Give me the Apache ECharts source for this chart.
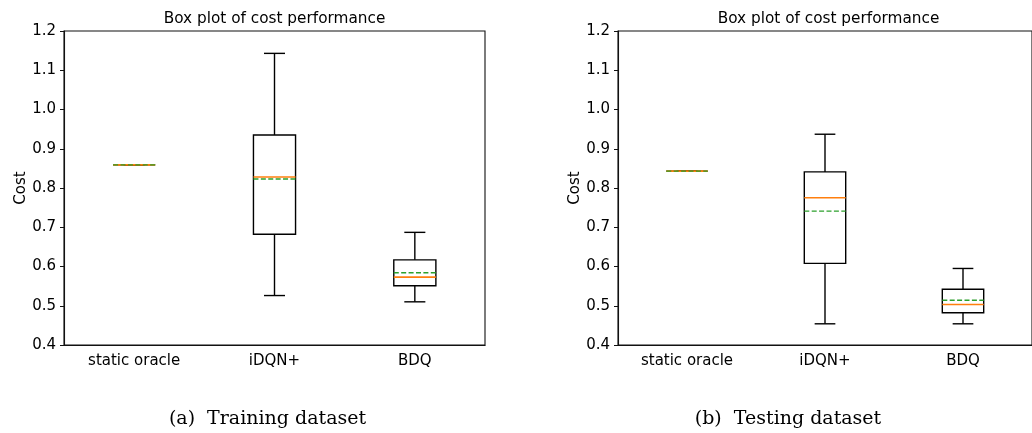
<!DOCTYPE html>
<html>
<head>
<meta charset="utf-8">
<script src="https://cdn.jsdelivr.net/npm/echarts@6/dist/echarts.min.js"></script>
<style>
html,body{margin:0;padding:0;background:#fff;}
#chart{width:1032px;height:433px;}
</style>
</head>
<body>
<div id="chart"></div>
<script>
const categories = ['static oracle', 'iDQN+', 'BDQ'];
const yTicks = [0.4, 0.5, 0.6, 0.7, 0.8, 0.9, 1.0, 1.1, 1.2];

const trainMin    = [0.859, 0.526, 0.510];
const trainQ1     = [0.859, 0.682, 0.551];
const trainMedian = [0.859, 0.828, 0.573];
const trainQ3     = [0.859, 0.935, 0.617];
const trainMax    = [0.859, 1.143, 0.687];
const trainMean   = [0.859, 0.823, 0.584];

const testMin    = [0.843, 0.454, 0.454];
const testQ1     = [0.843, 0.608, 0.482];
const testMedian = [0.843, 0.775, 0.503];
const testQ3     = [0.843, 0.841, 0.542];
const testMax    = [0.843, 0.937, 0.595];
const testMean   = [0.843, 0.741, 0.514];

const plotTitle = 'Box plot of cost performance';
const yName = 'Cost';
const captions = ['(a)  Training dataset', '(b)  Testing dataset'];

function buildData(mn, q1, md, q3, mx, mean) {
  return categories.map((c, i) => [i, mn[i], q1[i], md[i], q3[i], mx[i], mean[i]]);
}

const FONT = 'DejaVu Sans';

function renderBox(params, api) {
  const i = api.value(0);
  const mn = api.value(1), q1 = api.value(2), md = api.value(3),
        q3 = api.value(4), mx = api.value(5), mean = api.value(6);
  const band = api.size([1, 0])[0];
  const half = band * 0.15;
  const cap = band * 0.075;
  const x = api.coord([i, md])[0];
  const y = v => api.coord([i, v])[1];
  const black = { stroke: '#000', lineWidth: 1.4, fill: null };
  return {
    type: 'group',
    children: [
      { type: 'line', shape: { x1: x, y1: y(q1), x2: x, y2: y(mn) }, style: black },
      { type: 'line', shape: { x1: x, y1: y(q3), x2: x, y2: y(mx) }, style: black },
      { type: 'line', shape: { x1: x - cap, y1: y(mn), x2: x + cap, y2: y(mn) }, style: black },
      { type: 'line', shape: { x1: x - cap, y1: y(mx), x2: x + cap, y2: y(mx) }, style: black },
      { type: 'rect', shape: { x: x - half, y: y(q3), width: 2 * half, height: y(q1) - y(q3) },
        style: { stroke: '#000', lineWidth: 1.4, fill: 'none' } },
      { type: 'line', shape: { x1: x - half, y1: y(md), x2: x + half, y2: y(md) },
        style: { stroke: '#ff7f0e', lineWidth: 1.6 } },
      { type: 'line', shape: { x1: x - half, y1: y(mean), x2: x + half, y2: y(mean) },
        style: { stroke: '#2ca02c', lineWidth: 1.4, lineDash: [5, 2.4] } }
    ]
  };
}

const gridLefts = [64, 618];
const grids = gridLefts.map(l => ({
  left: l, top: 31, width: 421, height: 314,
  show: true, borderColor: '#111', borderWidth: 1.1, backgroundColor: 'transparent'
}));

const xAxes = gridLefts.map((l, k) => ({
  type: 'category', gridIndex: k, data: categories, boundaryGap: true,
  axisLine: { lineStyle: { color: '#111', width: 1.1 } },
  axisTick: { alignWithLabel: true, length: 4, lineStyle: { color: '#111' } },
  axisLabel: { color: '#000', fontFamily: FONT, fontSize: 15, margin: 9 },
  splitLine: { show: false }
}));

const yAxes = gridLefts.map((l, k) => ({
  type: 'value', gridIndex: k, min: yTicks[0], max: yTicks[yTicks.length - 1], interval: 0.1,
  name: yName, nameLocation: 'middle', nameGap: 35, nameRotate: 90,
  nameTextStyle: { color: '#000', fontFamily: FONT, fontSize: 15 },
  axisLine: { show: true, lineStyle: { color: '#111', width: 1.1 } },
  axisTick: { show: true, length: 4, lineStyle: { color: '#111' } },
  axisLabel: { color: '#000', fontFamily: FONT, fontSize: 15, margin: 8,
    formatter: v => v.toFixed(1) },
  splitLine: { show: false }
}));

const graphics = [];
gridLefts.forEach((l, k) => {
  graphics.push({
    type: 'text', x: l + 210.5, y: 19,
    style: { text: plotTitle, fill: '#000', font: '15.3px "DejaVu Sans"',
      textAlign: 'center', textVerticalAlign: 'middle' }
  });
  graphics.push({
    type: 'text', x: [267.5, 788][k], y: 419,
    style: { text: captions[k], fill: '#000', font: '19px "DejaVu Serif"',
      textAlign: 'center', textVerticalAlign: 'middle' }
  });
});

const chart = echarts.init(document.getElementById('chart'), null, { renderer: 'canvas' });
chart.setOption({
  animation: false,
  backgroundColor: '#fff',
  graphic: graphics,
  grid: grids,
  xAxis: xAxes,
  yAxis: yAxes,
  series: [
    { type: 'custom', xAxisIndex: 0, yAxisIndex: 0, renderItem: renderBox,
      encode: { x: 0, y: [1, 2, 3, 4, 5, 6] },
      data: buildData(trainMin, trainQ1, trainMedian, trainQ3, trainMax, trainMean) },
    { type: 'custom', xAxisIndex: 1, yAxisIndex: 1, renderItem: renderBox,
      encode: { x: 0, y: [1, 2, 3, 4, 5, 6] },
      data: buildData(testMin, testQ1, testMedian, testQ3, testMax, testMean) }
  ]
});
</script>
</body>
</html>
